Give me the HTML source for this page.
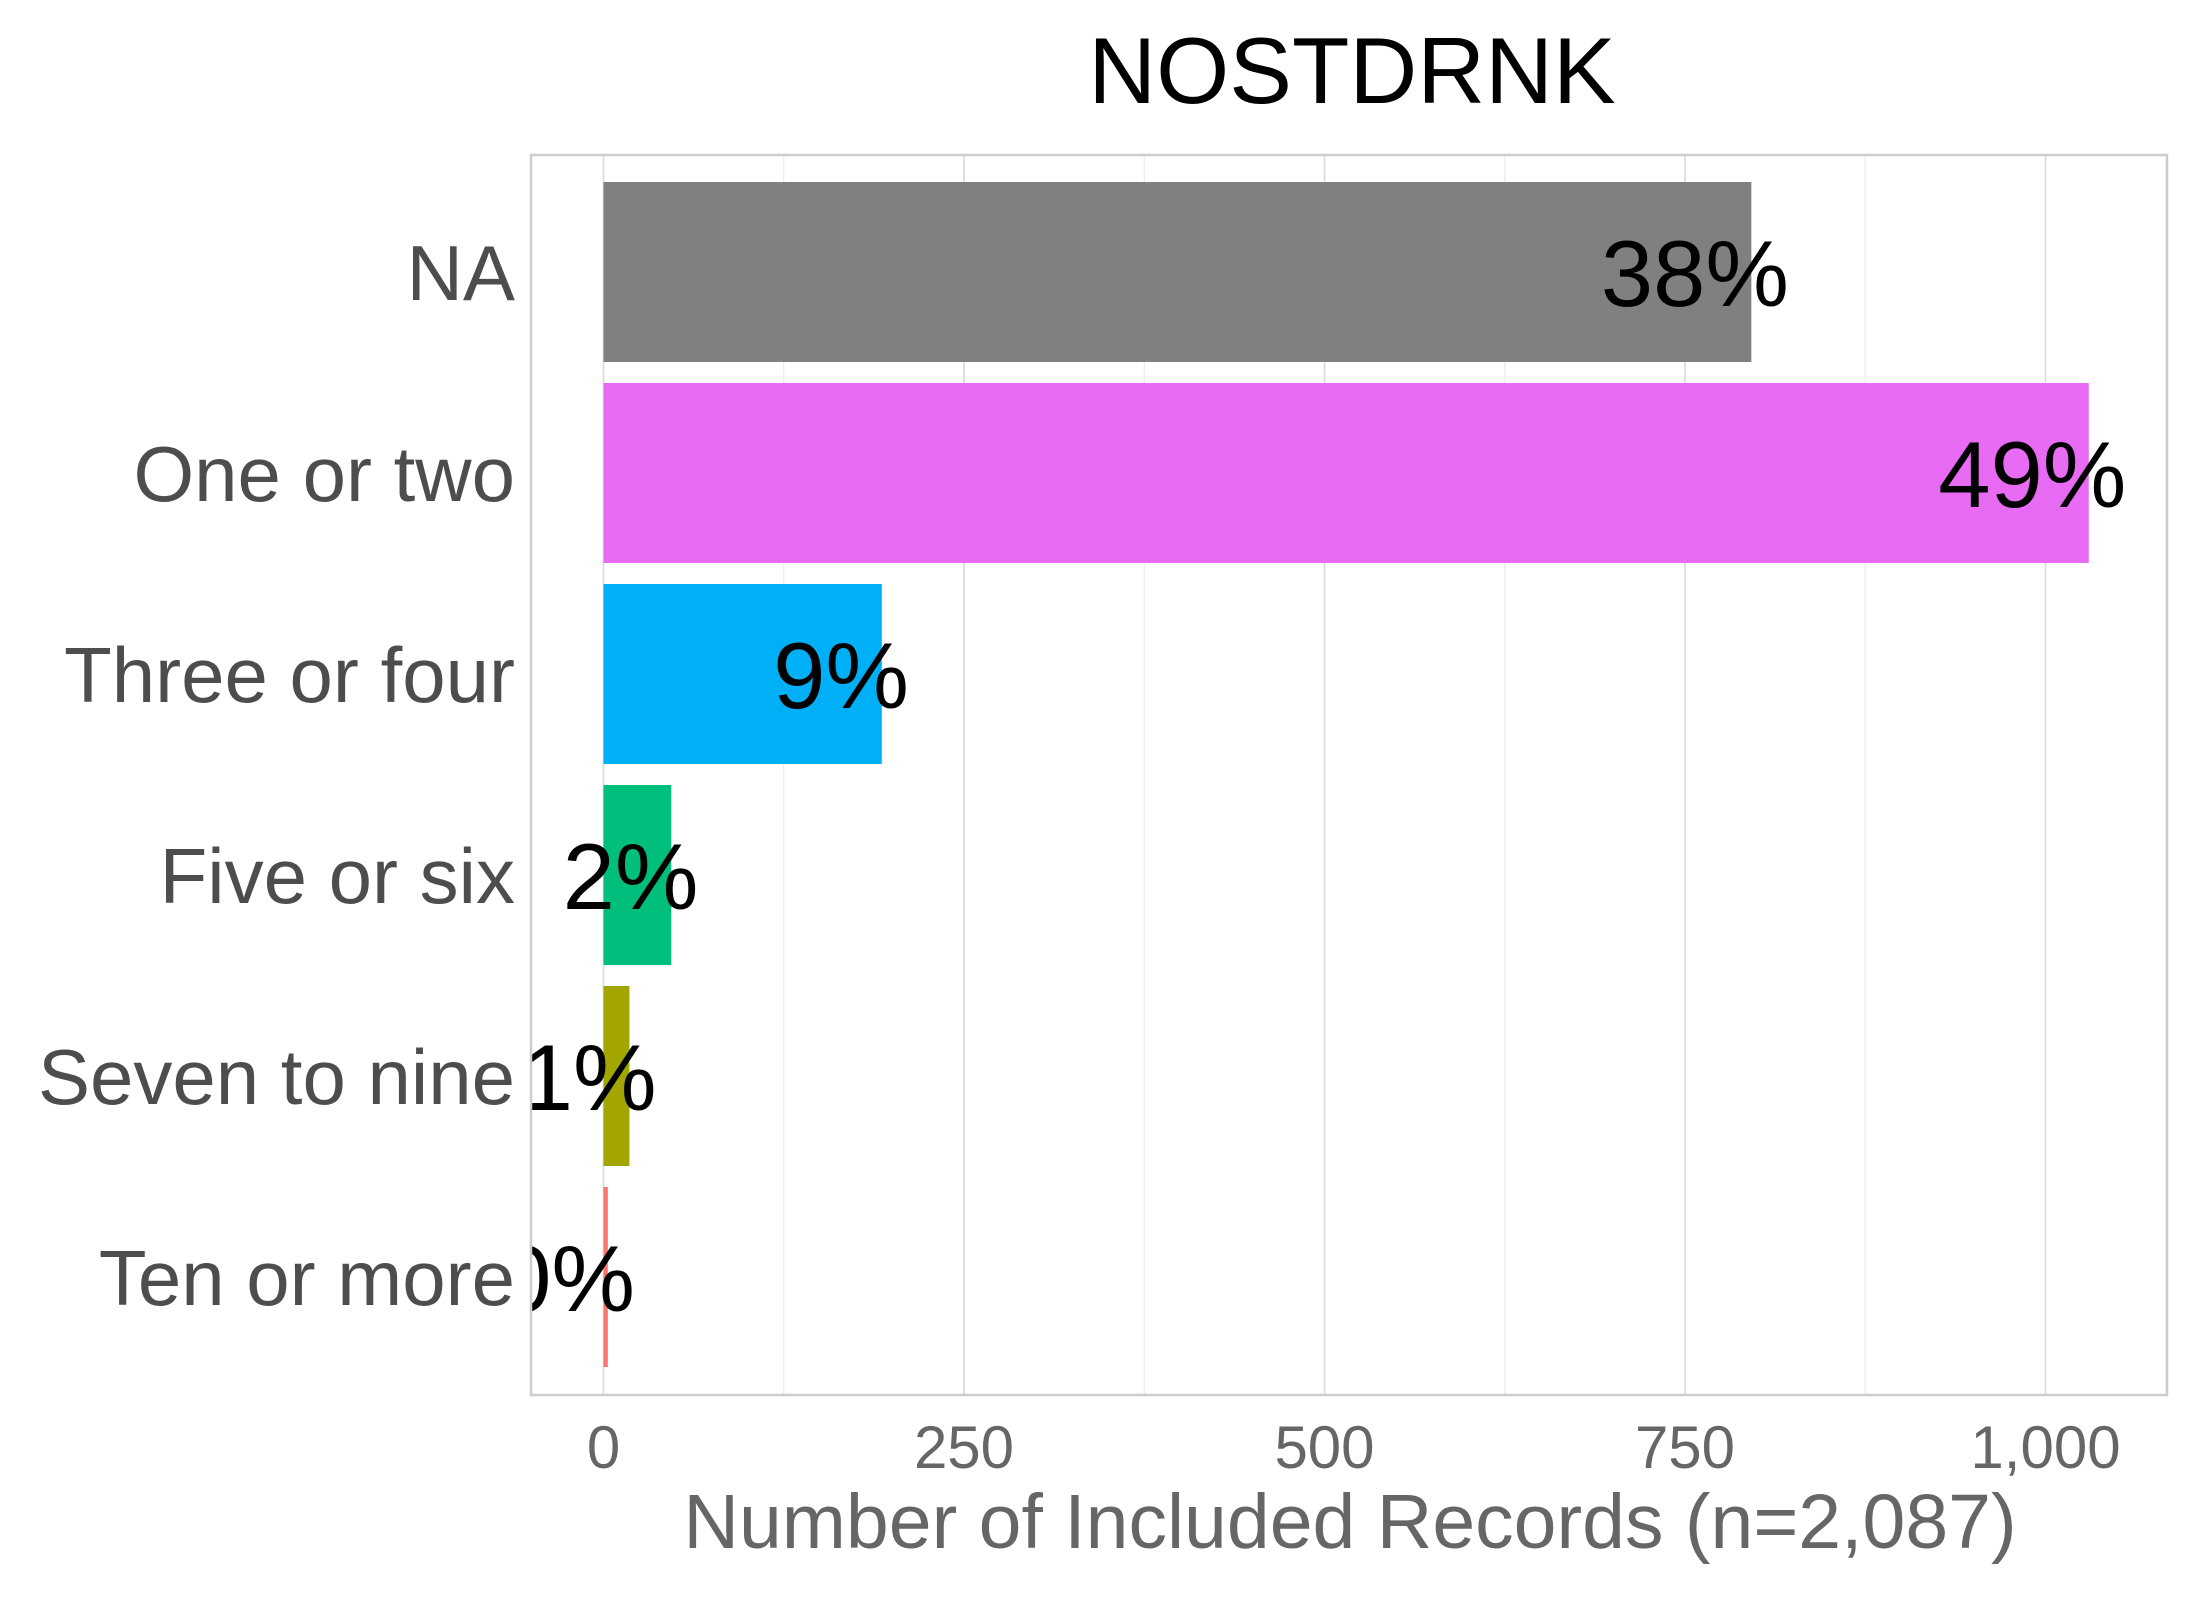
<!DOCTYPE html>
<html><head><meta charset="utf-8"><style>
html,body{margin:0;padding:0;background:#fff;}
svg text{font-family:"Liberation Sans",sans-serif;}
</style></head><body>
<svg id="chart" width="2200" height="1600" viewBox="0 0 2200 1600" xmlns="http://www.w3.org/2000/svg">
<defs><clipPath id="pclip"><rect x="531" y="155" width="1636" height="1240"/></clipPath></defs>
<rect width="2200" height="1600" fill="#fff"/>
<text x="1352" y="103" font-size="94" text-anchor="middle" fill="#000">NOSTDRNK</text>
<g id="grid"></g>
<g id="bars" clip-path="url(#pclip)"></g>
<rect x="531" y="155" width="1636" height="1240" fill="none" stroke="#cccccc" stroke-width="2.5"/>
<g id="ylabels"></g>
<g id="xticks"></g>
<text x="1350" y="1548" font-size="77" text-anchor="middle" fill="#666666">Number of Included Records (n=2,087)</text>
</svg>
<script>
const categories = ["NA","One or two","Three or four","Five or six","Seven to nine","Ten or more"];
const counts = [796, 1030, 193, 47, 18, 3];
const pctLabels = ["38%","49%","9%","2%","1%","0%"];
const colors = ["#808080","#E76BF3","#00B0F6","#00BF7D","#A3A500","#F8766D"];
const tickValues = [0,250,500,750,1000];
const tickLabels = ["0","250","500","750","1,000"];

const NS="http://www.w3.org/2000/svg";
const x0=603.5, pxPerUnit=1.442;
function xs(v){return x0+v*pxPerUnit;}
const yTop=272, pitch=201;
function ys(i){return yTop+i*pitch;}
const bh=180;
function mk(tag,attrs,parent){const e=document.createElementNS(NS,tag);for(const k in attrs)e.setAttribute(k,attrs[k]);parent.appendChild(e);return e;}

const grid=document.getElementById('grid');
for(let v=125; v<1100; v+=250){
  const g=mk('line',{x1:xs(v),x2:xs(v),y1:156,y2:1394,stroke:'#ebebeb','stroke-width':1.2},grid);
  
  
}
const xt=document.getElementById('xticks');
tickValues.forEach((v,i)=>{
  const g=mk('line',{x1:xs(v),x2:xs(v),y1:156,y2:1394,stroke:'#d9d9d9','stroke-width':1.6},grid);
  
  
  const t=mk('text',{x:xs(v),y:1468,'font-size':60,'text-anchor':'middle',fill:'#666666'},xt);
  t.textContent=tickLabels[i];
  
  
});
const bars=document.getElementById('bars');
const yl=document.getElementById('ylabels');
categories.forEach((c,i)=>{
  const cy=ys(i);
  const r=mk('rect',{x:xs(0),y:cy-bh/2,width:Math.max(xs(counts[i])-xs(0),1.5),height:bh,fill:colors[i]},bars);
  
  
  const t=mk('text',{x:0,y:cy+34,'font-size':94,fill:'#000'},bars);
  t.textContent=pctLabels[i];
  
  
  const w=t.getComputedTextLength();
  t.setAttribute('x', xs(counts[i]) - 0.8*w);
  const l=mk('text',{x:515,y:cy+28,'font-size':78,'text-anchor':'end',fill:'#4d4d4d'},yl);
  l.textContent=c;
  
  
});
</script>
</body></html>
